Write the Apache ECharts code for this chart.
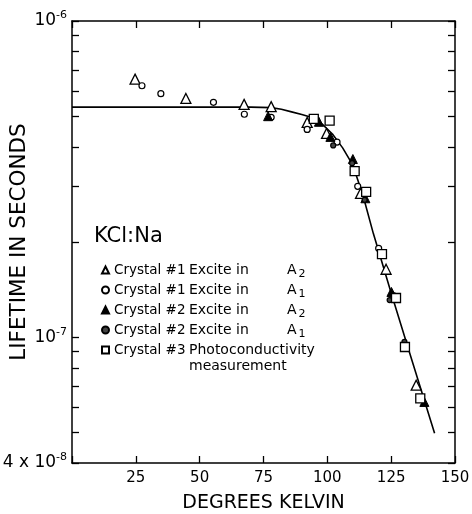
<!DOCTYPE html>
<html>
<head>
<meta charset="utf-8">
<style>
  html, body { margin: 0; padding: 0; background: #fff; }
  #chart { width: 472px; height: 514px; }
</style>
</head>
<body>
<div id="chart"></div>
<script src="https://cdn.jsdelivr.net/npm/echarts@6/dist/echarts.min.js"></script>
<script>
  // temperature in K, lifetime in seconds
  const fitCurve = [[0, 5.34e-7], [40, 5.34e-7], [70, 5.34e-7], [78, 5.32e-7], [82, 5.26e-7], [86, 5.16e-7],
    [90, 5.06e-7], [94, 4.95e-7], [98, 4.72e-7], [102, 4.39e-7], [106, 3.97e-7], [110, 3.50e-7],
    [114, 2.80e-7], [118, 2.13e-7], [125, 1.38e-7], [132, 9.04e-8], [142, 4.97e-8]]

  const crystal1A2 = [[24.7, 6.55e-7], [44.6, 5.69e-7], [67.4, 5.45e-7], [78.0, 5.36e-7], [92.1, 4.78e-7],
    [99.7, 4.41e-7], [113.0, 2.85e-7], [123.0, 1.64e-7], [134.8, 7.05e-8]]
  const crystal1A1 = [[27.4, 6.24e-7], [34.8, 5.89e-7], [55.4, 5.53e-7], [67.5, 5.07e-7], [78.0, 4.96e-7],
    [92.1, 4.54e-7], [103.8, 4.14e-7], [111.9, 3.0e-7], [120.1, 1.91e-7], [126.0, 1.35e-7]]
  const crystal2A2 = [[76.8, 5.0e-7], [96.7, 4.8e-7], [101.2, 4.3e-7], [110.0, 3.66e-7], [114.9, 2.75e-7],
    [125.1, 1.39e-7], [138.0, 6.24e-8]]
  const crystal2A1 = [[102.3, 4.04e-7], [109.7, 3.55e-7], [114.6, 2.72e-7], [124.4, 1.31e-7], [130.2, 9.66e-8]]
  const crystal3 = [[94.7, 4.9e-7], [100.9, 4.84e-7], [110.7, 3.35e-7], [115.2, 2.88e-7], [121.4, 1.83e-7],
    [126.9, 1.33e-7], [130.4, 9.31e-8], [136.4, 6.4e-8]]

  const yTicks = [4e-8, 5e-8, 6e-8, 7e-8, 8e-8, 9e-8, 1e-7, 2e-7, 3e-7, 4e-7, 5e-7, 6e-7, 7e-7, 8e-7, 9e-7, 1e-6]
  const yLabelValues = [4e-8, 1e-7, 1e-6]
  const yLabelTexts = [['4 x 10', '-8'], ['10', '-7'], ['10', '-6']]
  const xTicks = [25, 50, 75, 100, 125, 150]

  const legendRows = {
    'Crystal #1 A2': ['Crystal #1', 'Excite in', 'A', '2'],
    'Crystal #1 A1': ['Crystal #1', 'Excite in', 'A', '1'],
    'Crystal #2 A2': ['Crystal #2', 'Excite in', 'A', '2'],
    'Crystal #2 A1': ['Crystal #2', 'Excite in', 'A', '1'],
    'Crystal #3': ['Crystal #3', 'Photoconductivity']
  }

  const FONT = 'DejaVu Sans'
  const yMin = Math.log10(4e-8)
  const yMax = Math.log10(1e-6)

  const chart = echarts.init(document.getElementById('chart'))

  const scatter = (name, data, symbol, size, fill, border) => ({
    name: name,
    type: 'scatter',
    xAxisIndex: 0,
    yAxisIndex: 0,
    symbol: symbol,
    symbolSize: size,
    data: data,
    itemStyle: { color: fill, borderColor: '#000', borderWidth: border, opacity: 1 },
    z: 3
  })

  chart.setOption({
    animation: false,
    backgroundColor: '#fff',
    textStyle: { fontFamily: FONT, color: '#000' },
    grid: { left: 72, right: 17, top: 21, bottom: 51, containLabel: false, outerBoundsMode: 'none' },
    title: {
      text: 'KCl:Na',
      left: 94,
      top: 226,
      padding: 0,
      textStyle: { fontFamily: FONT, fontSize: 21, fontWeight: 'normal', color: '#000' }
    },
    legend: {
      orient: 'vertical',
      left: 101,
      top: 263,
      padding: 0,
      itemGap: 3,
      itemWidth: 7,
      itemHeight: 7,
      selectedMode: false,
      data: Object.keys(legendRows),
      formatter: function (name) {
        const r = legendRows[name]
        if (r.length === 2) return '{a|' + r[0] + '}{p|' + r[1] + '}'
        return '{a|' + r[0] + '}{b|' + r[1] + '}{c|' + r[2] + '}{d|' + r[3] + '}'
      },
      textStyle: {
        fontFamily: FONT,
        color: '#000',
        rich: {
          a: { fontFamily: FONT, fontSize: 13.5, width: 75, lineHeight: 20 },
          b: { fontFamily: FONT, fontSize: 14, width: 98, lineHeight: 20 },
          c: { fontFamily: FONT, fontSize: 14, lineHeight: 20 },
          d: { fontFamily: FONT, fontSize: 11, lineHeight: 20, verticalAlign: 'bottom', padding: [0, 0, 0, 2] },
          p: { fontFamily: FONT, fontSize: 14, lineHeight: 20 }
        }
      }
    },
    graphic: [{
      type: 'text',
      left: 189,
      top: 359,
      style: { text: 'measurement', font: '14px "DejaVu Sans"', fill: '#000' }
    }],
    xAxis: [{
      type: 'value',
      position: 'bottom',
      min: 0,
      max: 150,
      interval: 25,
      name: 'DEGREES KELVIN',
      nameLocation: 'middle',
      nameGap: 31,
      nameMoveOverlap: false,
      nameTextStyle: { fontFamily: FONT, fontSize: 19, color: '#000' },
      axisLine: { lineStyle: { color: '#000', width: 1.5 } },
      axisTick: { inside: true, length: 7, lineStyle: { color: '#000', width: 1.3 } },
      axisLabel: { customValues: xTicks, fontFamily: FONT, fontSize: 15, color: '#000', margin: 8 },
      splitLine: { show: false }
    }, {
      type: 'value',
      position: 'top',
      min: 0,
      max: 150,
      interval: 25,
      axisLine: { lineStyle: { color: '#000', width: 1.5 } },
      axisTick: { inside: true, length: 7, lineStyle: { color: '#000', width: 1.3 } },
      axisLabel: { show: false },
      splitLine: { show: false }
    }],
    yAxis: [{
      type: 'log',
      logBase: 10,
      min: 4e-8,
      max: 1e-6,
      axisLine: { show: false },
      axisTick: { show: false },
      axisLabel: { show: false },
      splitLine: { show: false }
    }, {
      type: 'value',
      position: 'left',
      min: yMin,
      max: yMax,
      name: 'LIFETIME IN SECONDS',
      nameLocation: 'middle',
      nameGap: 42,
      nameMoveOverlap: false,
      nameTextStyle: { fontFamily: FONT, fontSize: 21.5, color: '#000' },
      axisLine: { show: true, lineStyle: { color: '#000', width: 1.5 } },
      axisTick: { inside: true, length: 7, customValues: yTicks.map(v => Math.log10(v)), lineStyle: { color: '#000', width: 1.3 } },
      axisLabel: {
        customValues: yLabelValues.map(v => Math.log10(v)),
        margin: 5,
        formatter: function (v) {
          let best = 0
          yLabelValues.forEach((lv, i) => {
            if (Math.abs(Math.log10(lv) - v) < Math.abs(Math.log10(yLabelValues[best]) - v)) best = i
          })
          const t = yLabelTexts[best]
          return '{b|' + t[0] + '}{s|' + t[1] + '}'
        },
        rich: {
          b: { fontFamily: FONT, fontSize: 17, color: '#000', lineHeight: 22 },
          s: { fontFamily: FONT, fontSize: 11, color: '#000', lineHeight: 22, verticalAlign: 'top' }
        }
      },
      splitLine: { show: false }
    }, {
      type: 'value',
      position: 'right',
      min: yMin,
      max: yMax,
      axisLine: { show: true, lineStyle: { color: '#000', width: 1.5 } },
      axisTick: { inside: true, length: 7, customValues: yTicks.map(v => Math.log10(v)), lineStyle: { color: '#000', width: 1.3 } },
      axisLabel: { show: false },
      splitLine: { show: false }
    }],
    series: [
      {
        name: 'fit',
        type: 'line',
        xAxisIndex: 0,
        yAxisIndex: 0,
        data: fitCurve,
        showSymbol: false,
        smooth: false,
        lineStyle: { color: '#000', width: 1.6, join: 'round' },
        z: 2
      },
      scatter('Crystal #1 A2', crystal1A2, 'triangle', 10, '#fff', 1.3),
      scatter('Crystal #1 A1', crystal1A1, 'circle', 6, '#fff', 1.2),
      scatter('Crystal #2 A2', crystal2A2, 'triangle', 9, '#000', 1),
      scatter('Crystal #2 A1', crystal2A1, 'circle', 5, '#444', 1.2),
      scatter('Crystal #3', crystal3, 'rect', 9, '#fff', 1.3)
    ]
  })
</script>
</body>
</html>
